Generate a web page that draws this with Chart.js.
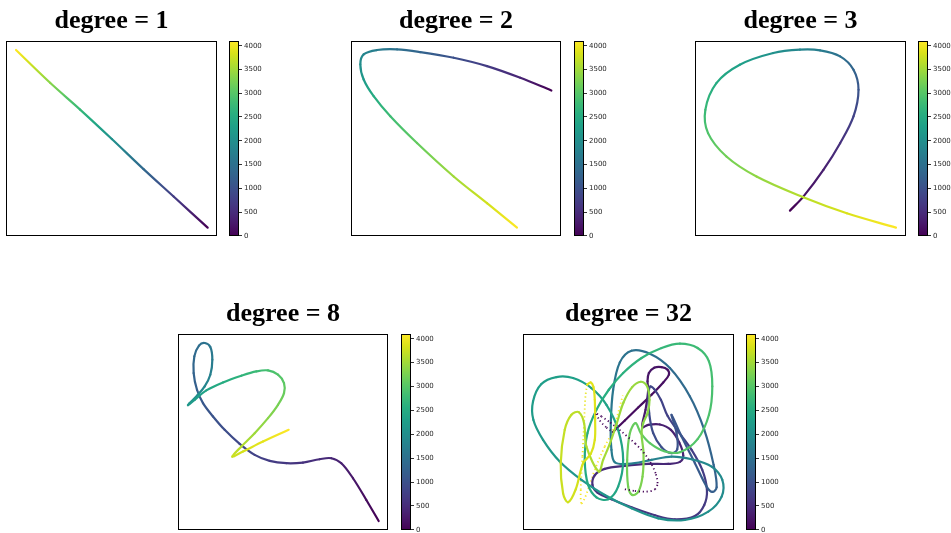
<!DOCTYPE html>
<html>
<head>
<meta charset="utf-8">
<script src="https://cdn.jsdelivr.net/npm/chart.js@4.4.0/dist/chart.umd.min.js"></script>
<style>
html, body { margin: 0; padding: 0; background: #fff; width: 951px; height: 533px; overflow: hidden; }
canvas { position: absolute; }
</style>
</head>
<body>
<script>
// each row: [x, y, sample index]  (x/y in plot units, y grows downward)
const CMAX = 4095;
const cbarTicks = [0, 500, 1000, 1500, 2000, 2500, 3000, 3500, 4000];

const deg1 = [[622,683,0],[520,590,730],[430,508,1370],[335,418,2050],[240,330,2730],[150,250,3350],[48,152,4095]];

const deg2 = [[693,273,0],[600,235,400],[500,200,700],[400,175,1000],[300,158,1300],[230,150,1500],[170,152,1700],
  [130,165,1850],[120,195,2000],[130,240,2200],[160,290,2500],[210,350,2800],[290,430,3100],[400,530,3500],
  [500,610,3800],[590,683,4095]];

const deg3 = [[450,632,0],[490,590,150],[550,510,350],[600,430,550],[640,350,800],[655,270,1050],[640,210,1300],
  [600,170,1500],[540,152,1700],[480,150,1850],[400,160,2050],[300,195,2300],[230,250,2500],[197,330,2750],
  [205,400,2950],[260,470,3200],[350,530,3400],[490,592,3650],[620,640,3850],[767,683,4095]];

const deg8 = [[627,693,0],[590,630,120],[550,565,250],[515,520,360],[485,505,430],[450,508,500],[400,518,580],
  [350,520,650],[300,513,720],[255,495,800],[210,462,880],[165,420,960],[130,380,1040],[100,340,1120],
  [82,300,1200],[72,250,1290],[74,200,1380],[88,168,1460],[105,160,1530],[122,172,1600],[128,210,1680],
  [122,255,1770],[105,290,1860],[82,318,1960],[60,340,2080],[55,346,2150],[75,330,2250],[110,302,2380],
  [160,278,2520],[215,258,2650],[260,245,2770],[295,242,2870],[325,255,2960],[343,280,3050],[343,310,3130],
  [325,345,3230],[295,385,3350],[255,430,3480],[215,470,3620],[188,500,3750],[220,485,3830],[280,455,3930],
  [357,420,4095]];

const deg32Head = [[330,598,0],[360,603,6],[395,605,12],[420,598,18],[428,580,24],[422,550,30],[408,520,36],
  [388,490,42],[362,462,48],[335,438,54],[308,415,60],[282,395,66],[260,380,72],[245,372,78],[255,392,84],
  [275,413,90],[294,427,96]];

const deg32Body = [[294,427,96],[330,392,115],[370,353,130],[410,315,145],[445,278,160],[462,255,170],
  [458,240,180],[440,232,195],[418,234,210],[402,250,225],[398,275,240],[400,300,255],
  [392,360,280],[382,412,300],[400,405,320],[435,404,340],[468,420,360],[493,458,380],[505,497,400],
  [495,516,420],[460,522,440],[400,522,460],
  [330,528,480],[270,537,500],[240,556,520],[233,585,540],[248,608,560],[290,628,580],[350,652,600],
  [420,676,620],[480,688,640],[540,678,660],[568,645,680],[576,600,700],[562,540,720],[530,480,740],
  [490,425,760],[458,378,780],
  [438,330,810],[418,298,840],[406,290,860],[401,315,880],[403,370,910],[415,430,940],[440,472,970],
  [470,490,1000],[487,478,1020],[485,430,1040],[470,375,1060],
  [500,440,1100],[540,520,1140],[575,590,1180],[592,606,1210],[605,592,1240],[596,525,1280],[568,420,1330],
  [525,320,1380],[465,235,1430],[405,192,1480],[350,183,1520],[315,218,1560],[295,300,1600],[288,400,1640],
  [290,480,1680],[300,517,1710],[340,522,1740],[410,510,1780],[470,500,1820],
  [530,508,1860],[590,530,1900],[622,570,1940],[620,620,1970],[580,665,2000],[510,690,2030],[430,685,2060],
  [350,655,2090],[270,615,2120],[200,570,2150],[135,515,2180],[85,450,2200],[56,390,2220],[55,335,2240],
  [80,283,2260],[125,262,2280],[175,265,2300],[230,295,2320],[275,345,2340],[310,420,2360],[325,510,2380],
  [310,590,2400],[280,628,2420],[245,622,2440],[220,585,2460],[210,510,2480],[218,430,2500],[245,360,2530],
  [282,300,2560],
  [325,250,2600],[380,205,2650],[440,175,2700],[495,162,2750],[548,175,2800],[582,215,2840],[592,290,2880],
  [582,375,2920],[548,448,2960],[495,487,3000],[448,484,3030],[405,460,3060],[378,430,3090],[362,400,3120],
  [345,430,3160],[337,510,3190],[340,590,3220],[352,615,3240],[370,606,3260],[383,560,3290],[386,490,3320],
  [380,430,3340],[385,400,3360],
  [398,370,3380],[404,330,3400],[396,288,3420],[378,276,3440],[352,292,3460],[326,338,3480],[306,400,3500],
  [285,462,3520],[265,510,3540],[252,545,3560],
  [215,470,3600],[208,400,3630],[192,367,3660],[170,375,3690],[150,420,3710],[138,520,3740],[145,610,3770],
  [160,637,3790],[183,598,3810],[205,520,3830],[228,492,3845],[240,450,3860],[241,390,3875],[240,330,3890],
  [236,292,3905],[228,278,3915],[217,285,3925]];

const deg32Tail = [[217,285,3925],[212,320,3935],[208,400,3960],[203,500,3990],[198,600,4020],[200,640,4040],
  [212,620,4050],[240,540,4065],[270,470,4078],[294,422,4087],[324,317,4095]];

// layout: box = [left, top, width, height] in page px, cb = colourbar box
const TITLE_H = 41;
const panels = [
  { title: 'degree = 1', series: [{ pts: deg1 }], box: [6, 41, 211, 195], cb: [229, 41, 10, 195], xr: [18, 650], yr: [125, 708] },
  { title: 'degree = 2', series: [{ pts: deg2 }], box: [351, 41, 210, 195], cb: [574, 41, 10, 195], xr: [92, 722], yr: [125, 708] },
  { title: 'degree = 3', series: [{ pts: deg3 }], box: [695, 41, 211, 195], cb: [918, 41, 10, 195], xr: [166, 797], yr: [124, 708] },
  { title: 'degree = 8', series: [{ pts: deg8 }], box: [178, 334, 210, 196], cb: [401, 334, 10, 196], xr: [25, 655], yr: [133, 720] },
  { title: 'degree = 32', series: [{ pts: deg32Head, dash: true }, { pts: deg32Body }, { pts: deg32Tail, dash: true }],
    box: [523, 334, 211, 196], cb: [746, 334, 10, 196], xr: [25, 657], yr: [133, 720] }
];

const VIR = ['#440154','#48186a','#472d7b','#424086','#3b528b','#33638d','#2c728e','#26828e','#21918c',
  '#1fa088','#28ae80','#3fbc73','#5ec962','#84d44b','#addc30','#d8e219','#fde725']
  .map(h => [parseInt(h.slice(1,3),16), parseInt(h.slice(3,5),16), parseInt(h.slice(5,7),16)]);

function viridis(t) {
  t = Math.min(1, Math.max(0, t));
  const f = t * (VIR.length - 1);
  const i = Math.min(VIR.length - 2, Math.floor(f));
  const r = f - i, a = VIR[i], b = VIR[i + 1];
  return 'rgb(' + [0,1,2].map(k => Math.round(a[k] + (b[k] - a[k]) * r)).join(',') + ')';
}

function segColor(ctx) {
  const data = ctx.chart.data.datasets[ctx.datasetIndex].data;
  const a = data[ctx.p0DataIndex], b = data[ctx.p1DataIndex];
  const g = ctx.chart.ctx.createLinearGradient(ctx.p0.x, ctx.p0.y, ctx.p1.x, ctx.p1.y);
  for (let k = 0; k <= 4; k++) {
    g.addColorStop(k / 4, viridis((a[2] + (b[2] - a[2]) * k / 4) / CMAX));
  }
  return g;
}

const frame = {
  id: 'frame',
  afterDraw(chart) {
    const a = chart.chartArea, c = chart.ctx;
    c.save();
    c.strokeStyle = '#000';
    c.lineWidth = 1;
    c.strokeRect(Math.round(a.left) + 0.5, Math.round(a.top) + 0.5, Math.round(a.width) - 1, Math.round(a.height) - 1);
    c.restore();
  }
};

function addCanvas(l, t, w, h) {
  const cv = document.createElement('canvas');
  cv.width = w; cv.height = h;
  cv.style.left = l + 'px'; cv.style.top = t + 'px';
  document.body.appendChild(cv);
  return cv;
}

function makePlot(p) {
  const [l, t, w, h] = p.box;
  const cv = addCanvas(l, t - TITLE_H, w, h + TITLE_H);
  new Chart(cv, {
    type: 'scatter',
    data: {
      datasets: p.series.map(s => ({
        data: s.pts,
        showLine: true,
        pointRadius: 0,
        borderWidth: s.dash ? 1.8 : 2.2,
        borderDash: s.dash ? [1.2, 2.8] : [],
        borderCapStyle: s.dash ? 'butt' : 'round',
        borderJoinStyle: 'round',
        tension: 0.35,
        segment: { borderColor: segColor }
      }))
    },
    options: {
      responsive: false, animation: false, devicePixelRatio: 1,
      layout: { padding: 0 },
      plugins: {
        legend: { display: false }, tooltip: { enabled: false },
        title: { display: true, text: p.title, color: '#000',
          font: { family: 'Liberation Serif', size: 26, weight: 'bold' },
          padding: { top: 6, bottom: TITLE_H - 31.2 - 6 } }
      },
      scales: {
        x: { display: false, min: p.xr[0], max: p.xr[1] },
        y: { display: false, reverse: true, min: p.yr[0], max: p.yr[1] }
      }
    },
    plugins: [frame]
  });
}

function barGrad(ctx) {
  const a = ctx.chart.chartArea;
  if (!a) return null;
  const g = ctx.chart.ctx.createLinearGradient(0, a.bottom, 0, a.top);
  for (let k = 0; k <= 32; k++) g.addColorStop(k / 32, viridis(k / 32));
  return g;
}

function makeBar(p) {
  const [l, t, w, h] = p.cb;
  const cv = addCanvas(l, t - 6, w + 32, h + 12);
  new Chart(cv, {
    type: 'bar',
    data: { labels: [''], datasets: [{ data: [CMAX], backgroundColor: barGrad, borderWidth: 0, barPercentage: 1, categoryPercentage: 1 }] },
    options: {
      responsive: false, animation: false, devicePixelRatio: 1,
      layout: { padding: { top: 6, bottom: 6, left: 0, right: 0 } },
      plugins: { legend: { display: false }, tooltip: { enabled: false } },
      scales: {
        x: { display: false },
        y: {
          position: 'right', min: 0, max: CMAX,
          afterFit(s) { s.width = 32; },
          afterBuildTicks(s) { s.ticks = cbarTicks.map(v => ({ value: v })); },
          ticks: { font: { family: 'DejaVu Sans', size: 7 }, color: '#262626', padding: 2, callback: v => String(v) },
          grid: { drawOnChartArea: false, tickLength: 3, color: '#000', tickWidth: 0.8 },
          border: { display: false }
        }
      }
    },
    plugins: [frame]
  });
}

panels.forEach(p => { makePlot(p); makeBar(p); });
</script>
</body>
</html>
